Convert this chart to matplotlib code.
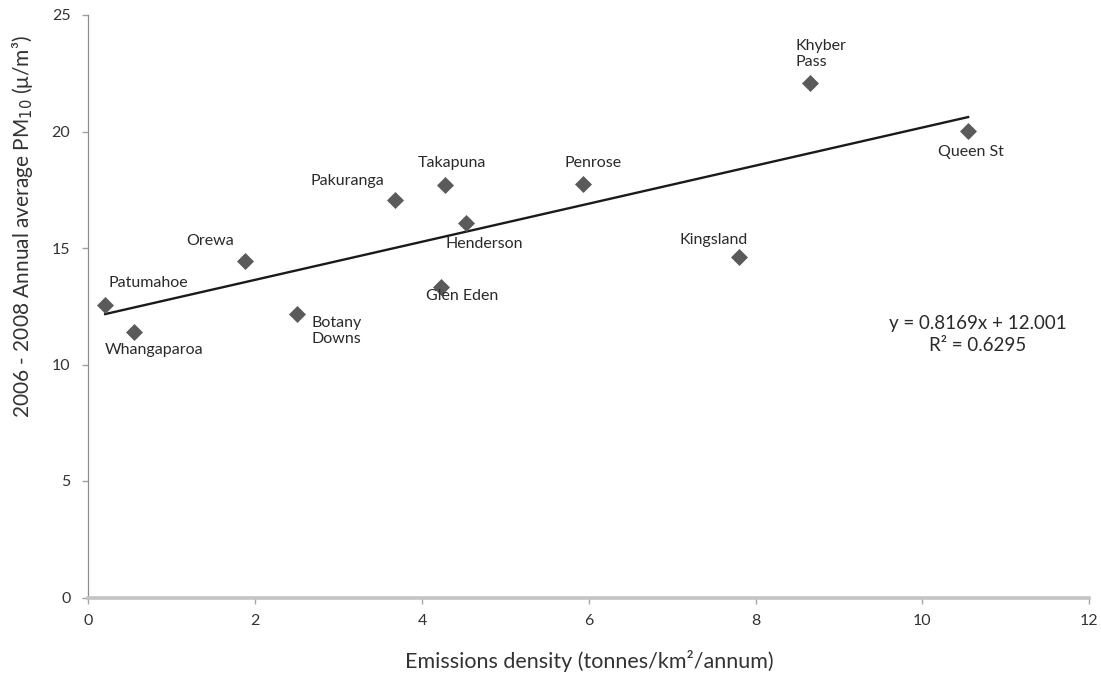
import matplotlib
matplotlib.use("Agg")
import matplotlib.pyplot as plt
import numpy as np

plt.rcParams['font.family'] = ['Lato', 'DejaVu Sans']

sites = ["Patumahoe", "Whangaparoa", "Orewa", "Botany\nDowns", "Pakuranga",
         "Takapuna", "Henderson", "Glen Eden", "Penrose", "Kingsland",
         "Khyber\nPass", "Queen St"]
emissions = [0.20, 0.55, 1.88, 2.50, 3.68, 4.28, 4.53, 4.23, 5.93, 7.80, 8.65, 10.55]
pm10 = [12.55, 11.4, 14.45, 12.17, 17.06, 17.7, 16.07, 13.33, 17.75, 14.6, 22.08, 20.02]
slope, intercept, r2 = 0.8169, 12.001, 0.6295

# label offsets in pixels (dx, dy, ha, va)
label_pos = {
    "Patumahoe": (43, 22, "center", "center"),
    "Whangaparoa": (20, -18, "center", "center"),
    "Orewa": (-35, 20, "center", "center"),
    "Botany\nDowns": (15, -17, "left", "center"),
    "Pakuranga": (-48, 19, "center", "center"),
    "Takapuna": (7, 22, "center", "center"),
    "Henderson": (18, -21, "center", "center"),
    "Glen Eden": (21, -9, "center", "center"),
    "Penrose": (10, 21, "center", "center"),
    "Kingsland": (-25, 17, "center", "center"),
    "Khyber\nPass": (-14, 29, "left", "center"),
    "Queen St": (3, -21, "center", "center"),
}

fig = plt.figure(figsize=(11.01, 6.8), dpi=100)
ax = fig.add_axes([88.5 / 1101, 1 - 597.5 / 680, 1000.5 / 1101, 582.5 / 680])

ax.scatter(emissions, pm10, marker='D', s=75, color='#5a5a5a', zorder=3, linewidths=0)
xs = np.array([min(emissions), max(emissions)])
ax.plot(xs, slope * xs + intercept, color='#1a1a1a', lw=1.7, zorder=2)

for name, x, y in zip(sites, emissions, pm10):
    dx, dy, ha, va = label_pos[name]
    ax.annotate(name, (x, y), xytext=(dx, dy), textcoords='offset pixels',
                ha=ha, va=va, fontsize=11.5, color='#2a2a2a', linespacing=1.15,
                multialignment='left')

ax.text(10.67, 11.29, f"y = {slope}x + {intercept:.3f}\nR² = {r2}", fontsize=13.5,
        ha='center', va='center', color='#2a2a2a', linespacing=1.3)

ax.set_xlim(0, 12)
ax.set_ylim(0, 25)
ax.set_xticks(range(0, 13, 2))
ax.set_yticks(range(0, 26, 5))
for s in ['top', 'right']:
    ax.spines[s].set_visible(False)
ax.spines['left'].set_color('#8c8c8c')
ax.spines['left'].set_linewidth(0.9)
ax.spines['bottom'].set_color('#c4c4c4')
ax.spines['bottom'].set_linewidth(2.6)
ax.tick_params(axis='x', colors='#a8a8a8', labelcolor='#333333', labelsize=11.5,
               length=4, width=1.0, direction='out', pad=8)
ax.tick_params(axis='y', colors='#a0a0a0', labelcolor='#333333', labelsize=11.5,
               length=4, width=1.0, direction='out', pad=9)
ax.set_xlabel("Emissions density (tonnes/km²/annum)", fontsize=15.5, color='#333333')
ax.xaxis.set_label_coords(0.501, -0.109)
ax.xaxis.label.set_va('center')
ax.set_ylabel("2006 - 2008 Annual average PM$_{10}$ (μ/m³)", fontsize=15, color='#333333')
ax.yaxis.set_label_coords(-0.0655, 0.637)
ax.yaxis.label.set_va('center')
ax.yaxis.label.set_ha('center')

fig.savefig("out.png", dpi=100)
